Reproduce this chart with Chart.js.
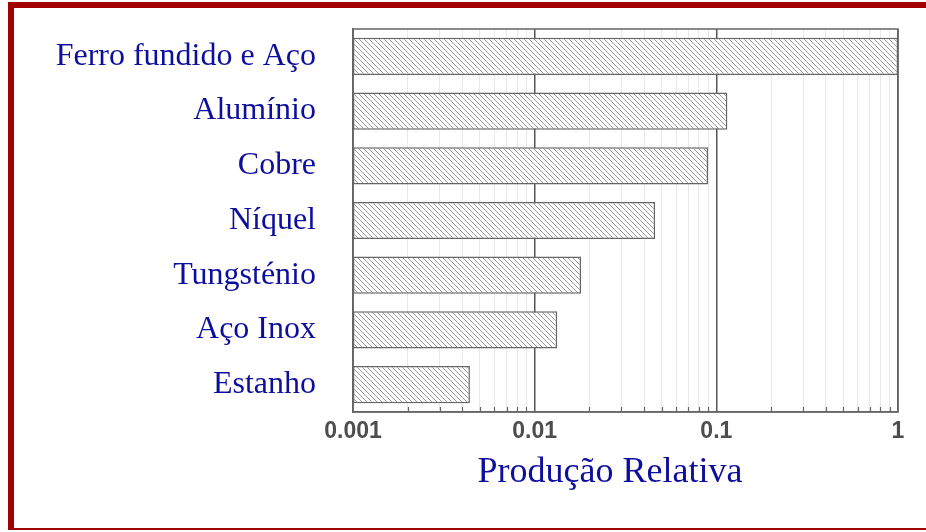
<!DOCTYPE html>
<html><head><meta charset="utf-8">
<script src="https://cdn.jsdelivr.net/npm/chart.js@4"></script>
<style>html,body{margin:0;padding:0;background:#fff}#wrap{width:926px;height:532px;position:relative}</style>
</head><body><div id="wrap"><canvas id="c" width="926" height="532"></canvas></div>
<script>
const categories = ['Ferro fundido e Aço','Alumínio','Cobre','Níquel','Tungsténio','Aço Inox','Estanho'];
const production = [1, 0.115, 0.09, 0.046, 0.018, 0.0133, 0.0044];
const majorTicks = [0.001, 0.01, 0.1, 1];
const majorTickLabels = ['0.001','0.01','0.1','1'];
const axisTitle = 'Produção Relativa';

function makeHatch(){
  const s = 5, p = document.createElement('canvas');
  p.width = s; p.height = s;
  const g = p.getContext('2d');
  g.fillStyle = '#ffffff'; g.fillRect(0,0,s,s);
  g.strokeStyle = '#999999'; g.lineWidth = 1;
  g.beginPath();
  g.moveTo(-1,-1); g.lineTo(s+1,s+1);
  g.moveTo(-1,s-1); g.lineTo(1,s+1);
  g.moveTo(s-1,-1); g.lineTo(s+1,1);
  g.stroke();
  return document.getElementById('c').getContext('2d').createPattern(p,'repeat');
}
const isMajor = v => majorTicks.some(m => Math.abs(m - v) / m < 1e-6);

const framePlugin = {
  id:'frame',
  beforeDraw(chart){
    const c = chart.ctx;
    c.save();
    c.fillStyle = '#ffffff'; c.fillRect(0,0,chart.width,chart.height);
    c.fillStyle = '#a00000';
    c.fillRect(8,2,chart.width-8,6);
    c.fillRect(8,2,6,528);
    c.fillRect(8,528,chart.width-8,2);
    c.restore();
  },
  afterDatasetsDraw(chart){
    const c = chart.ctx, a = chart.chartArea, xs = chart.scales.x;
    c.save();
    c.strokeStyle = '#666'; c.lineWidth = 1.5;
    c.strokeRect(a.left, a.top, a.right - a.left, a.bottom - a.top);
    c.lineWidth = 1.2;
    c.beginPath();
    xs.ticks.forEach(t => {
      if (isMajor(t.value)) return;
      const x = Math.round(xs.getPixelForValue(t.value)) + 0.5;
      c.moveTo(x, a.bottom); c.lineTo(x, a.bottom - 5);
    });
    c.stroke();
    c.fillStyle = '#0e0e9e';
    c.font = '36px "Liberation Serif"';
    c.textAlign = 'center'; c.textBaseline = 'alphabetic';
    c.fillText(axisTitle, 610, 482);
    c.restore();
  }
};

new Chart(document.getElementById('c'), {
  type:'bar',
  data:{
    labels: categories,
    datasets:[{
      data: production,
      backgroundColor: makeHatch(),
      borderColor:'#666666',
      borderWidth:1.5,
      borderSkipped:false,
      categoryPercentage:1,
      barPercentage:0.68
    }]
  },
  options:{
    indexAxis:'y',
    responsive:false,
    animation:false,
    devicePixelRatio:1,
    layout:{padding:{top:29,right:28,left:0,bottom:0}},
    plugins:{legend:{display:false},tooltip:{enabled:false}},
    scales:{
      x:{
        type:'logarithmic',
        min:0.001, max:1,
        afterFit(s){ s.height = 120; s.paddingLeft = 0; s.paddingRight = 0; },
        afterBuildTicks(s){
          const t = [];
          for (let i = 0; i < majorTicks.length; i++){
            if (i === majorTicks.length - 1){ t.push({value:majorTicks[i]}); break; }
            for (let k = 1; k <= 9; k++) t.push({value: +(majorTicks[i]*k).toPrecision(6)});
          }
          s.ticks = t;
        },
        grid:{
          drawTicks:false,
          color: ctx => (ctx.tick && isMajor(ctx.tick.value)) ? '#555555' : '#e8e8e8',
          lineWidth: ctx => (ctx.tick && isMajor(ctx.tick.value)) ? 1.5 : 1
        },
        border:{display:true,color:'#666',width:1.5},
        ticks:{
          autoSkip:false, maxRotation:0, padding:6,
          color:'#4d4d4d',
          font:{family:'"Liberation Sans"', size:23, weight:'bold'},
          callback(v){ const i = majorTicks.findIndex(m => Math.abs(m-v)/m < 1e-6); return i >= 0 ? majorTickLabels[i] : ''; }
        }
      },
      y:{
        afterFit(s){ s.width = 353; s.paddingTop = 0; s.paddingBottom = 0; },
        grid:{display:false, drawTicks:false},
        border:{display:true,color:'#666',width:1.5},
        ticks:{
          padding:37,
          color:'#0e0e9e',
          font:{family:'"Liberation Serif"', size:32}
        }
      }
    }
  },
  plugins:[framePlugin]
});
</script>
</body></html>
